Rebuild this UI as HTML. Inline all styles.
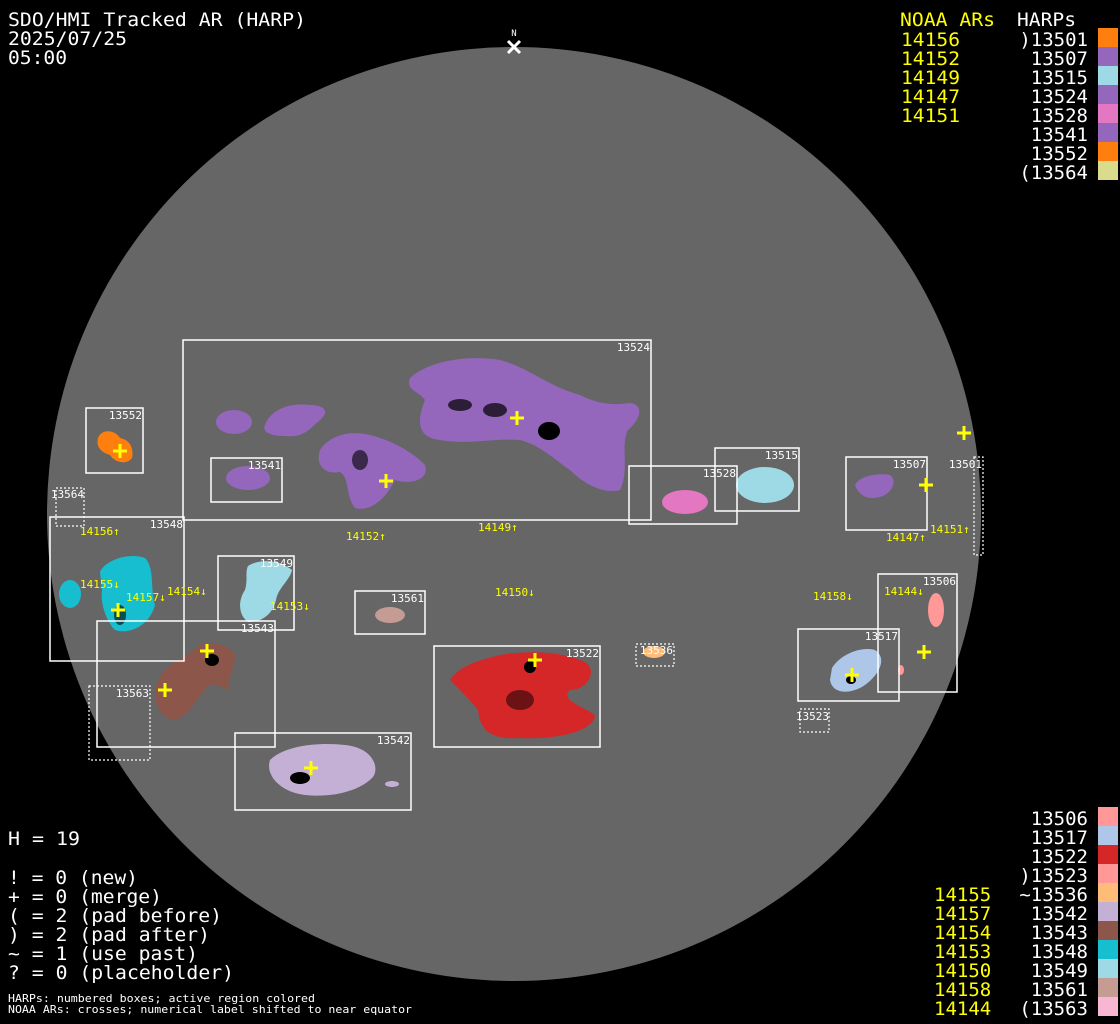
<!DOCTYPE html>
<html><head><meta charset="utf-8"><style>
html,body{margin:0;padding:0;background:#000;width:1120px;height:1024px;overflow:hidden}
svg{display:block}
text{font-family:"DejaVu Sans Mono","Liberation Mono",monospace;white-space:pre}
.w{fill:#fff}.y{fill:#ff0}
.b{fill:none;stroke:#fff;stroke-width:1.5}
.d{fill:none;stroke:#fff;stroke-width:1.2;stroke-dasharray:2 2}
.bl{fill:#fff;font-size:11px}
.yl{fill:#ff0;font-size:11px}
.big{font-size:19px}
.cr{stroke:#ff0;stroke-width:3}
</style></head><body>
<svg width="1120" height="1024" viewBox="0 0 1120 1024" xmlns="http://www.w3.org/2000/svg">
<rect width="1120" height="1024" fill="#000"/>
<circle cx="514" cy="514" r="467" fill="#666"/>

<!-- blobs -->
<g fill="#9467bd">
<path d="M410,378 C430,360 470,355 500,360 C530,368 545,385 580,395 C600,405 615,405 630,403 C645,405 640,420 628,430 C620,445 630,470 620,490 C600,495 580,480 570,470 C555,460 540,445 520,440 C490,438 470,445 440,440 C420,438 415,425 425,400 C420,392 405,390 410,378 Z"/>
<path d="M320,450 C330,435 350,430 370,435 C390,440 410,450 425,465 C430,480 410,485 395,480 C385,500 370,512 355,508 C345,495 350,478 340,472 C325,475 315,465 320,450 Z"/>
<ellipse cx="234" cy="422" rx="18" ry="12"/>
<path d="M265,425 C270,410 290,402 310,405 C325,405 330,412 320,420 C310,428 305,438 285,436 C270,436 262,432 265,425 Z"/>
<ellipse cx="248" cy="478" rx="22" ry="12"/>
<path d="M855,485 C860,475 880,473 890,475 C897,480 893,490 885,495 C875,500 860,500 855,485 Z"/>
</g>
<path fill="#ff7f0e" d="M98,438 C102,428 115,430 120,438 C130,440 134,448 132,458 C127,465 115,463 110,455 C100,452 96,446 98,438 Z"/>
<path fill="#17becf" d="M100,572 C105,560 130,552 145,558 C155,568 150,590 155,605 C150,625 130,635 115,630 C105,620 100,600 102,590 Z"/>
<ellipse fill="#17becf" cx="70" cy="594" rx="11" ry="14"/>
<path fill="#9edae5" d="M248,566 C260,558 280,560 292,570 C290,580 278,588 276,600 C272,615 262,622 248,622 C238,615 238,600 245,590 C248,580 245,572 248,566 Z"/>
<path fill="#8c564b" d="M165,670 C175,660 190,655 200,645 C210,640 230,645 235,655 C235,670 225,680 230,690 C225,690 210,678 205,690 C195,700 190,715 175,720 C160,718 155,705 155,690 C158,680 160,675 165,670 Z"/>
<path fill="#d62728" d="M450,680 C460,665 480,660 500,655 C530,650 560,652 580,660 C600,665 590,690 570,690 C560,700 580,705 595,715 C595,730 560,740 520,738 C490,740 480,730 478,710 C470,700 460,690 450,680 Z"/>
<path fill="#c5b0d5" d="M270,760 C285,745 320,742 345,745 C375,748 380,770 372,778 C360,790 335,798 305,795 C280,792 265,775 270,760 Z"/>
<ellipse fill="#c5b0d5" cx="392" cy="784" rx="7" ry="3"/>
<ellipse fill="#c49c94" cx="390" cy="615" rx="15" ry="8"/>
<ellipse fill="#e377c2" cx="685" cy="502" rx="23" ry="12"/>
<ellipse fill="#9edae5" cx="765" cy="485" rx="29" ry="18"/>
<ellipse fill="#ffbb78" cx="654" cy="652" rx="11" ry="6"/>
<path fill="#aec7e8" d="M832,668 C840,655 860,646 875,650 C890,660 875,680 860,688 C845,695 832,692 830,680 Z"/>
<ellipse fill="#ff9896" cx="936" cy="610" rx="8" ry="17"/>
<ellipse fill="#ff9896" cx="901" cy="670" rx="3" ry="5"/>

<!-- sunspot darks -->
<g fill="#000">
<ellipse cx="549" cy="431" rx="11" ry="9"/>
<ellipse cx="530" cy="667" rx="6" ry="6"/>
<ellipse cx="212" cy="660" rx="7" ry="6"/>
<ellipse cx="300" cy="778" rx="10" ry="6"/>
<ellipse cx="851" cy="680" rx="5" ry="4"/>
<ellipse cx="460" cy="405" rx="12" ry="6" opacity=".7"/>
<ellipse cx="495" cy="410" rx="12" ry="7" opacity=".7"/>
<ellipse cx="360" cy="460" rx="8" ry="10" opacity=".6"/>
<ellipse cx="520" cy="700" rx="14" ry="10" opacity=".5"/>
<ellipse cx="120" cy="615" rx="6" ry="10" opacity=".6"/>
</g>

<!-- boxes -->
<rect class="b" x="183" y="340" width="468" height="180"/>
<rect class="b" x="86" y="408" width="57" height="65"/>
<rect class="b" x="211" y="458" width="71" height="44"/>
<rect class="d" x="56" y="488" width="28" height="38"/>
<rect class="b" x="50" y="517" width="134" height="144"/>
<rect class="b" x="218" y="556" width="76" height="74"/>
<rect class="b" x="97" y="621" width="178" height="126"/>
<rect class="d" x="89" y="686" width="61" height="74"/>
<rect class="b" x="355" y="591" width="70" height="43"/>
<rect class="b" x="434" y="646" width="166" height="101"/>
<rect class="d" x="636" y="644" width="38" height="22"/>
<rect class="b" x="235" y="733" width="176" height="77"/>
<rect class="b" x="629" y="466" width="108" height="58"/>
<rect class="b" x="715" y="448" width="84" height="63"/>
<rect class="b" x="846" y="457" width="81" height="73"/>
<rect class="d" x="974" y="457" width="9" height="98"/>
<rect class="b" x="878" y="574" width="79" height="118"/>
<rect class="b" x="798" y="629" width="101" height="72"/>
<rect class="d" x="800" y="709" width="29" height="23"/>

<!-- box labels -->
<g class="bl" text-anchor="end">
<text x="650" y="351">13524</text>
<text x="142" y="419">13552</text>
<text x="281" y="469">13541</text>
<text x="84" y="498">13564</text>
<text x="183" y="528">13548</text>
<text x="293" y="567">13549</text>
<text x="274" y="632">13543</text>
<text x="149" y="697">13563</text>
<text x="424" y="602">13561</text>
<text x="599" y="657">13522</text>
<text x="673" y="654">13536</text>
<text x="410" y="744">13542</text>
<text x="736" y="477">13528</text>
<text x="798" y="459">13515</text>
<text x="926" y="468">13507</text>
<text x="982" y="468">13501</text>
<text x="956" y="585">13506</text>
<text x="898" y="640">13517</text>
<text x="829" y="720">13523</text>
</g>

<!-- NOAA labels -->
<g class="yl">
<text x="80" y="535">14156↑</text>
<text x="346" y="540">14152↑</text>
<text x="478" y="531">14149↑</text>
<text x="80" y="588">14155↓</text>
<text x="126" y="601">14157↓</text>
<text x="167" y="595">14154↓</text>
<text x="270" y="610">14153↓</text>
<text x="495" y="596">14150↓</text>
<text x="813" y="600">14158↓</text>
<text x="884" y="595">14144↓</text>
<text x="886" y="541">14147↑</text>
<text x="930" y="533">14151↑</text>
</g>

<!-- crosses -->
<g class="cr">
<path d="M510,418h14M517,411v14"/>
<path d="M379,481h14M386,474v14"/>
<path d="M113,451h14M120,444v14"/>
<path d="M111,610h14M118,603v14"/>
<path d="M200,651h14M207,644v14"/>
<path d="M158,690h14M165,683v14"/>
<path d="M528,660h14M535,653v14"/>
<path d="M304,768h14M311,761v14"/>
<path d="M845,675h14M852,668v14"/>
<path d="M917,652h14M924,645v14"/>
<path d="M919,485h14M926,478v14"/>
<path d="M957,433h14M964,426v14"/>
</g>
<path d="M508,41l12,12M520,41l-12,12" stroke="#fff" stroke-width="3"/>
<text x="514" y="36" class="w" font-size="9" text-anchor="middle">N</text>

<!-- header text -->
<g class="w big">
<text x="8" y="26" textLength="298" lengthAdjust="spacingAndGlyphs">SDO/HMI Tracked AR (HARP)</text>
<text x="8" y="45" textLength="119" lengthAdjust="spacingAndGlyphs">2025/07/25</text>
<text x="8" y="64" textLength="59" lengthAdjust="spacingAndGlyphs">05:00</text>
</g>
<g class="big">
<text x="900" y="26" class="y" textLength="95" lengthAdjust="spacingAndGlyphs">NOAA ARs</text>
<text x="1017" y="26" class="w" textLength="59" lengthAdjust="spacingAndGlyphs">HARPs</text>
<g class="y">
<text x="901" y="46" textLength="59" lengthAdjust="spacingAndGlyphs">14156</text>
<text x="901" y="65" textLength="59" lengthAdjust="spacingAndGlyphs">14152</text>
<text x="901" y="84" textLength="59" lengthAdjust="spacingAndGlyphs">14149</text>
<text x="901" y="103" textLength="59" lengthAdjust="spacingAndGlyphs">14147</text>
<text x="901" y="122" textLength="59" lengthAdjust="spacingAndGlyphs">14151</text>
</g>
<g class="w" text-anchor="end">
<text x="1088" y="46">)13501</text>
<text x="1088" y="65">13507</text>
<text x="1088" y="84">13515</text>
<text x="1088" y="103">13524</text>
<text x="1088" y="122">13528</text>
<text x="1088" y="141">13541</text>
<text x="1088" y="160">13552</text>
<text x="1088" y="179">(13564</text>
</g>
</g>
<rect x="1098" y="28" width="20" height="19" fill="#ff7f0e"/>
<rect x="1098" y="47" width="20" height="19" fill="#9467bd"/>
<rect x="1098" y="66" width="20" height="19" fill="#9edae5"/>
<rect x="1098" y="85" width="20" height="19" fill="#9467bd"/>
<rect x="1098" y="104" width="20" height="19" fill="#e377c2"/>
<rect x="1098" y="123" width="20" height="19" fill="#9467bd"/>
<rect x="1098" y="142" width="20" height="19" fill="#ff7f0e"/>
<rect x="1098" y="161" width="20" height="19" fill="#dbdb8d"/>

<!-- bottom right -->
<g class="big">
<g class="w" text-anchor="end">
<text x="1088" y="825">13506</text>
<text x="1088" y="844">13517</text>
<text x="1088" y="863">13522</text>
<text x="1088" y="882">)13523</text>
<text x="1088" y="901">~13536</text>
<text x="1088" y="920">13542</text>
<text x="1088" y="939">13543</text>
<text x="1088" y="958">13548</text>
<text x="1088" y="977">13549</text>
<text x="1088" y="996">13561</text>
<text x="1088" y="1015">(13563</text>
</g>
<g class="y">
<text x="934" y="901">14155</text>
<text x="934" y="920">14157</text>
<text x="934" y="939">14154</text>
<text x="934" y="958">14153</text>
<text x="934" y="977">14150</text>
<text x="934" y="996">14158</text>
<text x="934" y="1015">14144</text>
</g>
</g>
<rect x="1098" y="807" width="20" height="19" fill="#ff9896"/>
<rect x="1098" y="826" width="20" height="19" fill="#aec7e8"/>
<rect x="1098" y="845" width="20" height="19" fill="#d62728"/>
<rect x="1098" y="864" width="20" height="19" fill="#ff9896"/>
<rect x="1098" y="883" width="20" height="19" fill="#ffbb78"/>
<rect x="1098" y="902" width="20" height="19" fill="#c5b0d5"/>
<rect x="1098" y="921" width="20" height="19" fill="#8c564b"/>
<rect x="1098" y="940" width="20" height="19" fill="#17becf"/>
<rect x="1098" y="959" width="20" height="19" fill="#9edae5"/>
<rect x="1098" y="978" width="20" height="19" fill="#c49c94"/>
<rect x="1098" y="997" width="20" height="19" fill="#f7b6d2"/>

<!-- bottom left -->
<g class="w big">
<text x="8" y="845" textLength="72" lengthAdjust="spacingAndGlyphs">H = 19</text>
<text x="8" y="884" textLength="130" lengthAdjust="spacingAndGlyphs">! = 0 (new)</text>
<text x="8" y="903" textLength="154" lengthAdjust="spacingAndGlyphs">+ = 0 (merge)</text>
<text x="8" y="922" textLength="214" lengthAdjust="spacingAndGlyphs">( = 2 (pad before)</text>
<text x="8" y="941" textLength="202" lengthAdjust="spacingAndGlyphs">) = 2 (pad after)</text>
<text x="8" y="960" textLength="190" lengthAdjust="spacingAndGlyphs">~ = 1 (use past)</text>
<text x="8" y="979" textLength="226" lengthAdjust="spacingAndGlyphs">? = 0 (placeholder)</text>
</g>
<g class="w" font-size="11">
<text x="8" y="1002" textLength="307" lengthAdjust="spacingAndGlyphs">HARPs: numbered boxes; active region colored</text>
<text x="8" y="1013" textLength="404" lengthAdjust="spacingAndGlyphs">NOAA ARs: crosses; numerical label shifted to near equator</text>
</g>
</svg>
</body></html>
